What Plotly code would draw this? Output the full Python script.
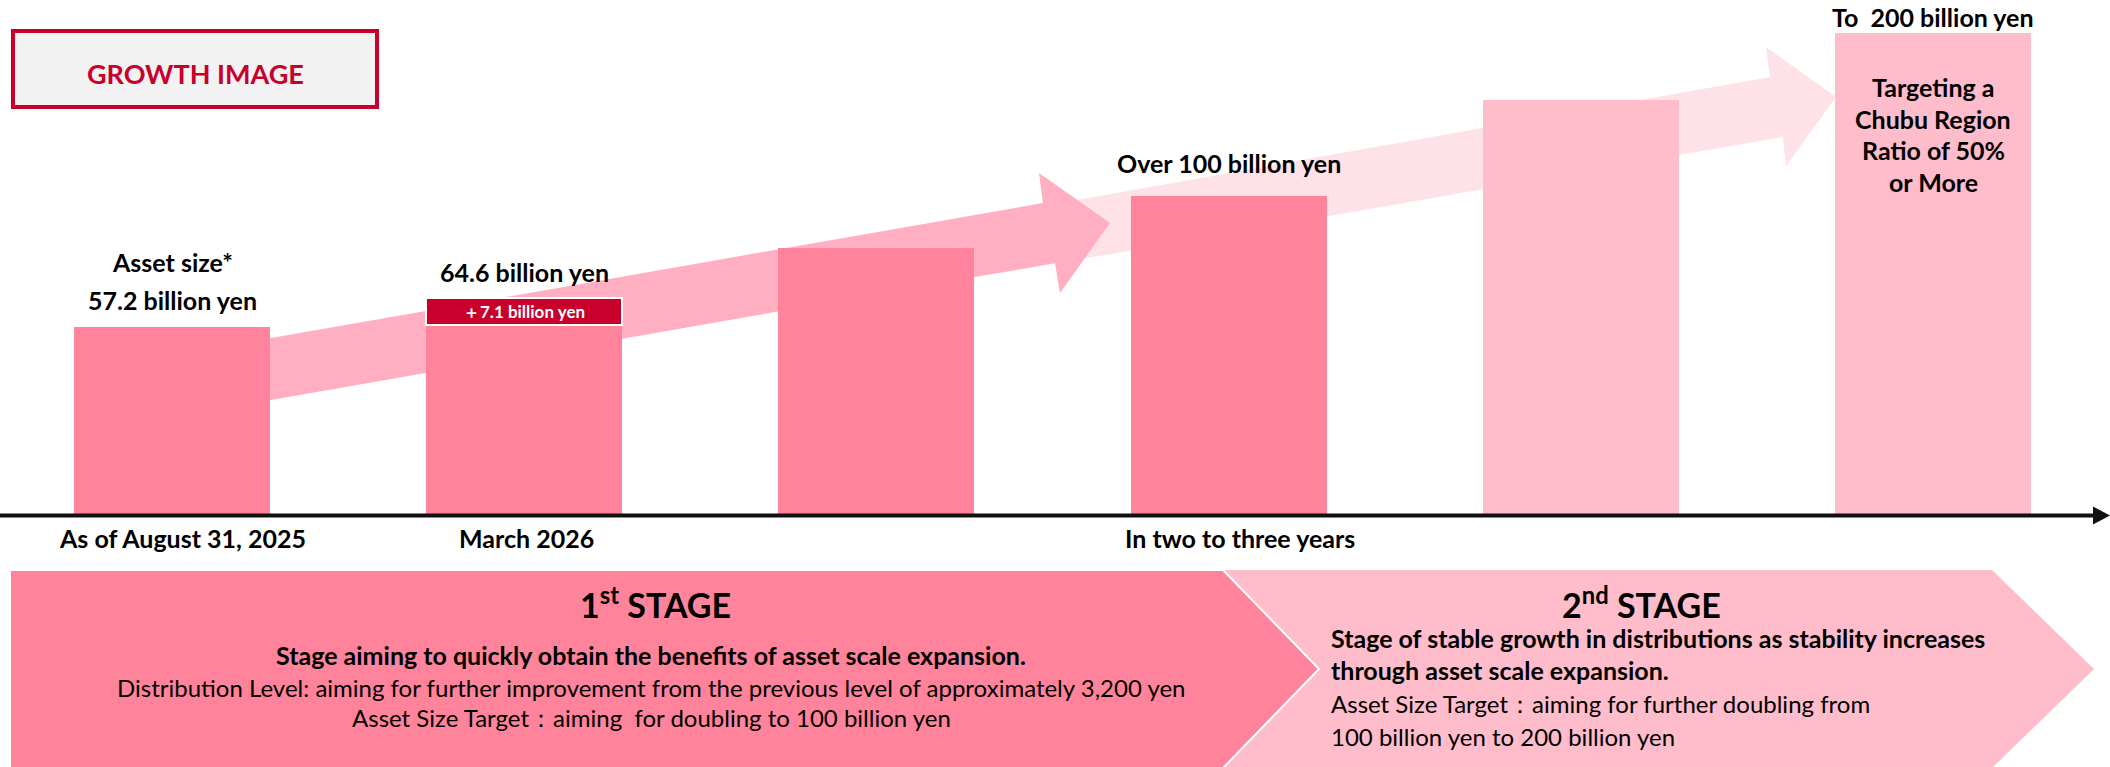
import math
import plotly.graph_objects as go

W, H = 2110, 767

# ---- data -------------------------------------------------------------
periods = ["As of August 31, 2025", "March 2026", "", "In two to three years", "", ""]
asset_size = [57.2, 64.6, 80, 100, 150, 200]            # billion yen
stage = [1, 1, 1, 1, 2, 2]
added_march_2026 = 7.1                                   # billion yen (top block of the March 2026 bar)
value_labels = ["57.2 billion yen", "64.6 billion yen", "", "Over 100 billion yen", "", "To  200 billion yen"]
label_gap = [11, 10, 0, 17, 0, 0]                        # px between bar top and its value label
period_shift = [10, 2, 0, 11, 0, 0]

stage1_lines = [
    "Stage aiming to quickly obtain the benefits of asset scale expansion.",
    "Distribution Level: aiming for further improvement from the previous level of approximately 3,200 yen",
    "Asset Size Target：aiming  for doubling to 100 billion yen",
]
stage2_lines = [
    "Stage of stable growth in distributions as stability increases",
    "through asset scale expansion.",
    "Asset Size Target：aiming for further doubling from",
    "100 billion yen to 200 billion yen",
]
target_note = ["Targeting a", "Chubu Region", "Ratio of 50%", "or More"]

# ---- style ------------------------------------------------------------
FONT = "Lato, 'Noto Sans', sans-serif"
DARK_PINK = "#FF839B"
LIGHT_PINK = "#FFBCCB"
RED = "#C8002B"
ARROW1 = "#FFAFC1"
ARROW2 = "#FFE1E8"
stage_color = {1: DARK_PINK, 2: LIGHT_PINK}
LABEL_SIZE = 25


def px(x):
    return x / W


def py(y):
    return 1 - y / H


def poly(points):
    return "M " + " L ".join(f"{px(x):.5f},{py(y):.5f}" for x, y in points) + " Z"


idx = list(range(len(asset_size)))
base_part = [v - added_march_2026 if i == 1 else v for i, v in enumerate(asset_size)]

fig = go.Figure()
fig.add_trace(go.Bar(
    x=idx, y=base_part, width=0.5565,
    marker=dict(color=[stage_color[s] for s in stage], line=dict(width=0)),
    hoverinfo="skip", showlegend=False,
))
fig.add_trace(go.Bar(
    x=[1], y=[added_march_2026], base=[asset_size[1] - added_march_2026], width=0.5565,
    marker=dict(color=RED, line=dict(color="white", width=2)),
    hoverinfo="skip", showlegend=False,
))

shapes = []
# growth arrows behind the bars
shapes.append(dict(type="path", xref="paper", yref="paper", layer="below", line=dict(width=0),
                   fillcolor=ARROW2,
                   path=poly([(1000, 213.7), (1770, 77), (1766, 47), (1836, 97), (1786, 166), (1783, 137), (1000, 273.2)])))
shapes.append(dict(type="path", xref="paper", yref="paper", layer="below", line=dict(width=0),
                   fillcolor=ARROW1,
                   path=poly([(150, 359.3), (1043, 203), (1039, 173), (1110, 223), (1060, 293), (1055, 263), (150, 421.3)])))
# time axis with arrow head
shapes.append(dict(type="line", xref="paper", yref="paper", layer="above",
                   x0=px(0), x1=px(2098), y0=py(515.5), y1=py(515.5), line=dict(color="#111111", width=4)))
shapes.append(dict(type="path", xref="paper", yref="paper", layer="above", line=dict(width=0),
                   fillcolor="#111111", path=poly([(2093, 506.5), (2110, 515.5), (2093, 524.5)])))
# stage chevrons
shapes.append(dict(type="path", xref="paper", yref="paper", line=dict(width=0), fillcolor=LIGHT_PINK,
                   path=poly([(1223, 570), (1992, 570), (2094, 669), (1992, 768), (1223, 768), (1319, 669)])))
shapes.append(dict(type="path", xref="paper", yref="paper", line=dict(color="white", width=2), fillcolor=DARK_PINK,
                   path=poly([(10, 570), (1223, 570), (1319, 669), (1223, 768), (10, 768)])))
# heading box
shapes.append(dict(type="rect", xref="paper", yref="paper", x0=px(13), x1=px(377), y0=py(31), y1=py(107),
                   fillcolor="#F2F2F2", line=dict(color=RED, width=4)))

ann = []


def text(x, y, s, size, bold=True, color="black", xanchor="center", **kw):
    ann.append(dict(x=px(x), y=py(y), xref="paper", yref="paper", text=f"<b>{s}</b>" if bold else s,
                    showarrow=False, xanchor=xanchor, yanchor="middle",
                    font=dict(family=FONT, size=size, color=color), **kw))


text(195, 74, "GROWTH IMAGE", 27, color=RED)

# value labels sit on top of their bars
for i, lab in enumerate(value_labels):
    if lab:
        ann.append(dict(x=i, y=math.log10(asset_size[i]), xref="x", yref="y", text=f"<b>{lab}</b>",
                        showarrow=False, xanchor="center", yanchor="bottom", yshift=label_gap[i],
                        borderpad=0, font=dict(family=FONT, size=LABEL_SIZE, color="black")))
ann.append(dict(x=0, y=math.log10(asset_size[0]), xref="x", yref="y", text="<b>Asset size*</b>",
                showarrow=False, xanchor="center", yanchor="bottom", yshift=label_gap[0] + 38,
                borderpad=0, font=dict(family=FONT, size=LABEL_SIZE, color="black")))
# increment block label
mid = math.log10(math.sqrt(asset_size[1] * (asset_size[1] - added_march_2026)))
ann.append(dict(x=1, y=mid, xref="x", yref="y", text=f"<b>＋{added_march_2026} billion yen</b>",
                showarrow=False, xanchor="center", yanchor="middle",
                font=dict(family=FONT, size=17, color="white")))

# period captions under the axis
for i, p in enumerate(periods):
    if p:
        ann.append(dict(x=i, y=py(538), xref="x", yref="paper", text=f"<b>{p}</b>", showarrow=False,
                        xanchor="center", yanchor="middle", xshift=period_shift[i],
                        font=dict(family=FONT, size=LABEL_SIZE, color="black")))

# note inside the last bar
for k, line in enumerate(target_note):
    text(1933, 87 + 31.7 * k, line, LABEL_SIZE)

# stage descriptions
text(655, 603, "1<sup>st</sup> STAGE", 34)
text(651, 655, stage1_lines[0], 25)
for k, line in enumerate(stage1_lines[1:]):
    text(651, 687 + 30 * k, line, 24, bold=False)

text(1641, 603, "2<sup>nd</sup> STAGE", 34)
text(1329, 638, stage2_lines[0], 25, xanchor="left")
text(1329, 670, stage2_lines[1], 25, xanchor="left")
text(1329, 703, stage2_lines[2], 24, bold=False, xanchor="left")
text(1329, 736, stage2_lines[3], 24, bold=False, xanchor="left")

fig.update_layout(
    width=W, height=H,
    margin=dict(l=0, r=0, t=0, b=0),
    paper_bgcolor="white", plot_bgcolor="rgba(0,0,0,0)",
    barmode="overlay", bargap=0,
    xaxis=dict(range=[-0.48836, 5.5025], visible=False, fixedrange=True),
    yaxis=dict(type="log", range=[1.4103, 2.3622], domain=[(H - 514) / H, 1],
               visible=False, fixedrange=True),
    shapes=shapes, annotations=ann,
    font=dict(family=FONT),
)

fig.write_html("out.html", config={"displayModeBar": False})
